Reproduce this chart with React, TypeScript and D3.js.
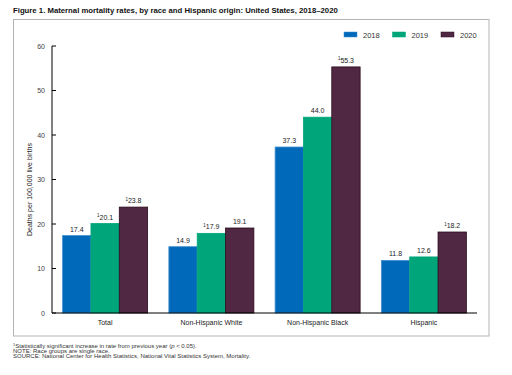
import React from "react";
import * as d3 from "d3";

const categories = ["Total", "Non-Hispanic White", "Non-Hispanic Black", "Hispanic"];
const years = ["2018", "2019", "2020"];
const values2018 = [17.4, 14.9, 37.3, 11.8];
const values2019 = [20.1, 17.9, 44.0, 12.6];
const values2020 = [23.8, 19.1, 55.3, 18.2];
const sig2018 = [false, false, false, false];
const sig2019 = [true, true, false, false];
const sig2020 = [true, false, true, true];
const yTicks = [0, 10, 20, 30, 40, 50, 60];
const colors = ["#0069b9", "#00a57a", "#512843"];
const strokes = ["#3f8fd0", "#00a57a", "#2a0b1c"];

const title = "Figure 1. Maternal mortality rates, by race and Hispanic origin: United States, 2018\u20132020";
const yLabel = "Deaths per 100,000 live births";
const footnote1 = "Statistically significant increase in rate from previous year (";
const footnote2 = "NOTE: Race groups are single race.";
const footnote3 = "SOURCE: National Center for Health Statistics, National Vital Statistics System, Mortality.";

export default function App() {
  const W = 512, H = 375;
  const x0 = 52, x1 = 477, yBase = 313, yTop = 46;
  const series = [values2018, values2019, values2020];
  const sigs = [sig2018, sig2019, sig2020];
  const xBand = d3.scaleBand<string>().domain(categories).range([x0, x1]).paddingInner(0.2).paddingOuter(0.1);
  const xInner = d3.scaleBand<string>().domain(years).range([0, xBand.bandwidth()]);
  const y = d3.scaleLinear().domain([0, 60]).range([yBase, yTop]);
  const font = "'Liberation Sans', Arial, sans-serif";

  return (
    <div style={{ position: "absolute", left: 0, top: 0 }}>
      <svg width={W} height={H} style={{ display: "block", background: "#fff" }} fontFamily={font}>
        <text x={13} y={12.5} fontSize={7.75} fontWeight="bold" fill="#111">{title}</text>
        <rect x={13.5} y={19.5} width={475.5} height={316.5} fill="none" stroke="#b4b4b4" strokeWidth={1} />
        {/* legend */}
        {years.map((yr, i) => (
          <g key={yr} transform={`translate(${344 + i * 48.5},0)`}>
            <rect x={0} y={32} width={13} height={5} fill={colors[i]} stroke={strokes[i]} strokeWidth={0.5} />
            <text x={19} y={37.5} fontSize={7.5} fill="#333">{yr}</text>
          </g>
        ))}
        {/* y axis label */}
        <text transform={`translate(31.5,${(yBase + yTop) / 2 + 10}) rotate(-90)`} textAnchor="middle" fontSize={7} fill="#222">{yLabel}</text>
        {/* bars */}
        {categories.map((c, ci) => (
          <g key={c} transform={`translate(${xBand(c)},0)`}>
            {years.map((yr, si) => {
              const v = series[si][ci];
              const bx = xInner(yr)!;
              const bw = xInner.bandwidth();
              const by = y(v);
              const cx = bx + bw / 2;
              return (
                <g key={yr}>
                  <rect x={bx} y={by} width={bw} height={yBase - by} fill={colors[si]} stroke={strokes[si]} strokeWidth={0.8} />
                  <text x={cx} y={by - 4} textAnchor="middle" fontSize={7} fill="#222">
                    {sigs[si][ci] ? <tspan fontSize={4.5} dy={-2.5}>1</tspan> : null}
                    {sigs[si][ci] ? <tspan dy={2.5}>{v.toFixed(1)}</tspan> : v.toFixed(1)}
                  </text>
                </g>
              );
            })}
            <text x={xBand.bandwidth() / 2} y={325} textAnchor="middle" fontSize={7} fill="#222">{c}</text>
          </g>
        ))}
        {/* axes */}
        <line x1={x0} x2={x0} y1={yTop} y2={yBase} stroke="#000" strokeWidth={1} />
        <line x1={x0} x2={x1} y1={yBase} y2={yBase} stroke="#000" strokeWidth={1} />
        {yTicks.map(t => (
          <g key={t}>
            <line x1={x0} x2={x0 + 4} y1={y(t)} y2={y(t)} stroke="#000" strokeWidth={1} />
            <text x={45} y={y(t) + 2.5} textAnchor="end" fontSize={7} fill="#444">{t}</text>
          </g>
        ))}
        {/* footnotes */}
        <text x={13} y={347.5} fontSize={6} fill="#333">
          <tspan fontSize={3.8} dy={-1.8}>1</tspan>
          <tspan dy={1.8}>{footnote1}</tspan>
          <tspan fontStyle="italic">p</tspan>
          <tspan>{" < 0.05)."}</tspan>
        </text>
        <text x={13} y={352.5} fontSize={6} fill="#333">{footnote2}</text>
        <text x={13} y={357.5} fontSize={6} fill="#333">{footnote3}</text>
      </svg>
    </div>
  );
}
